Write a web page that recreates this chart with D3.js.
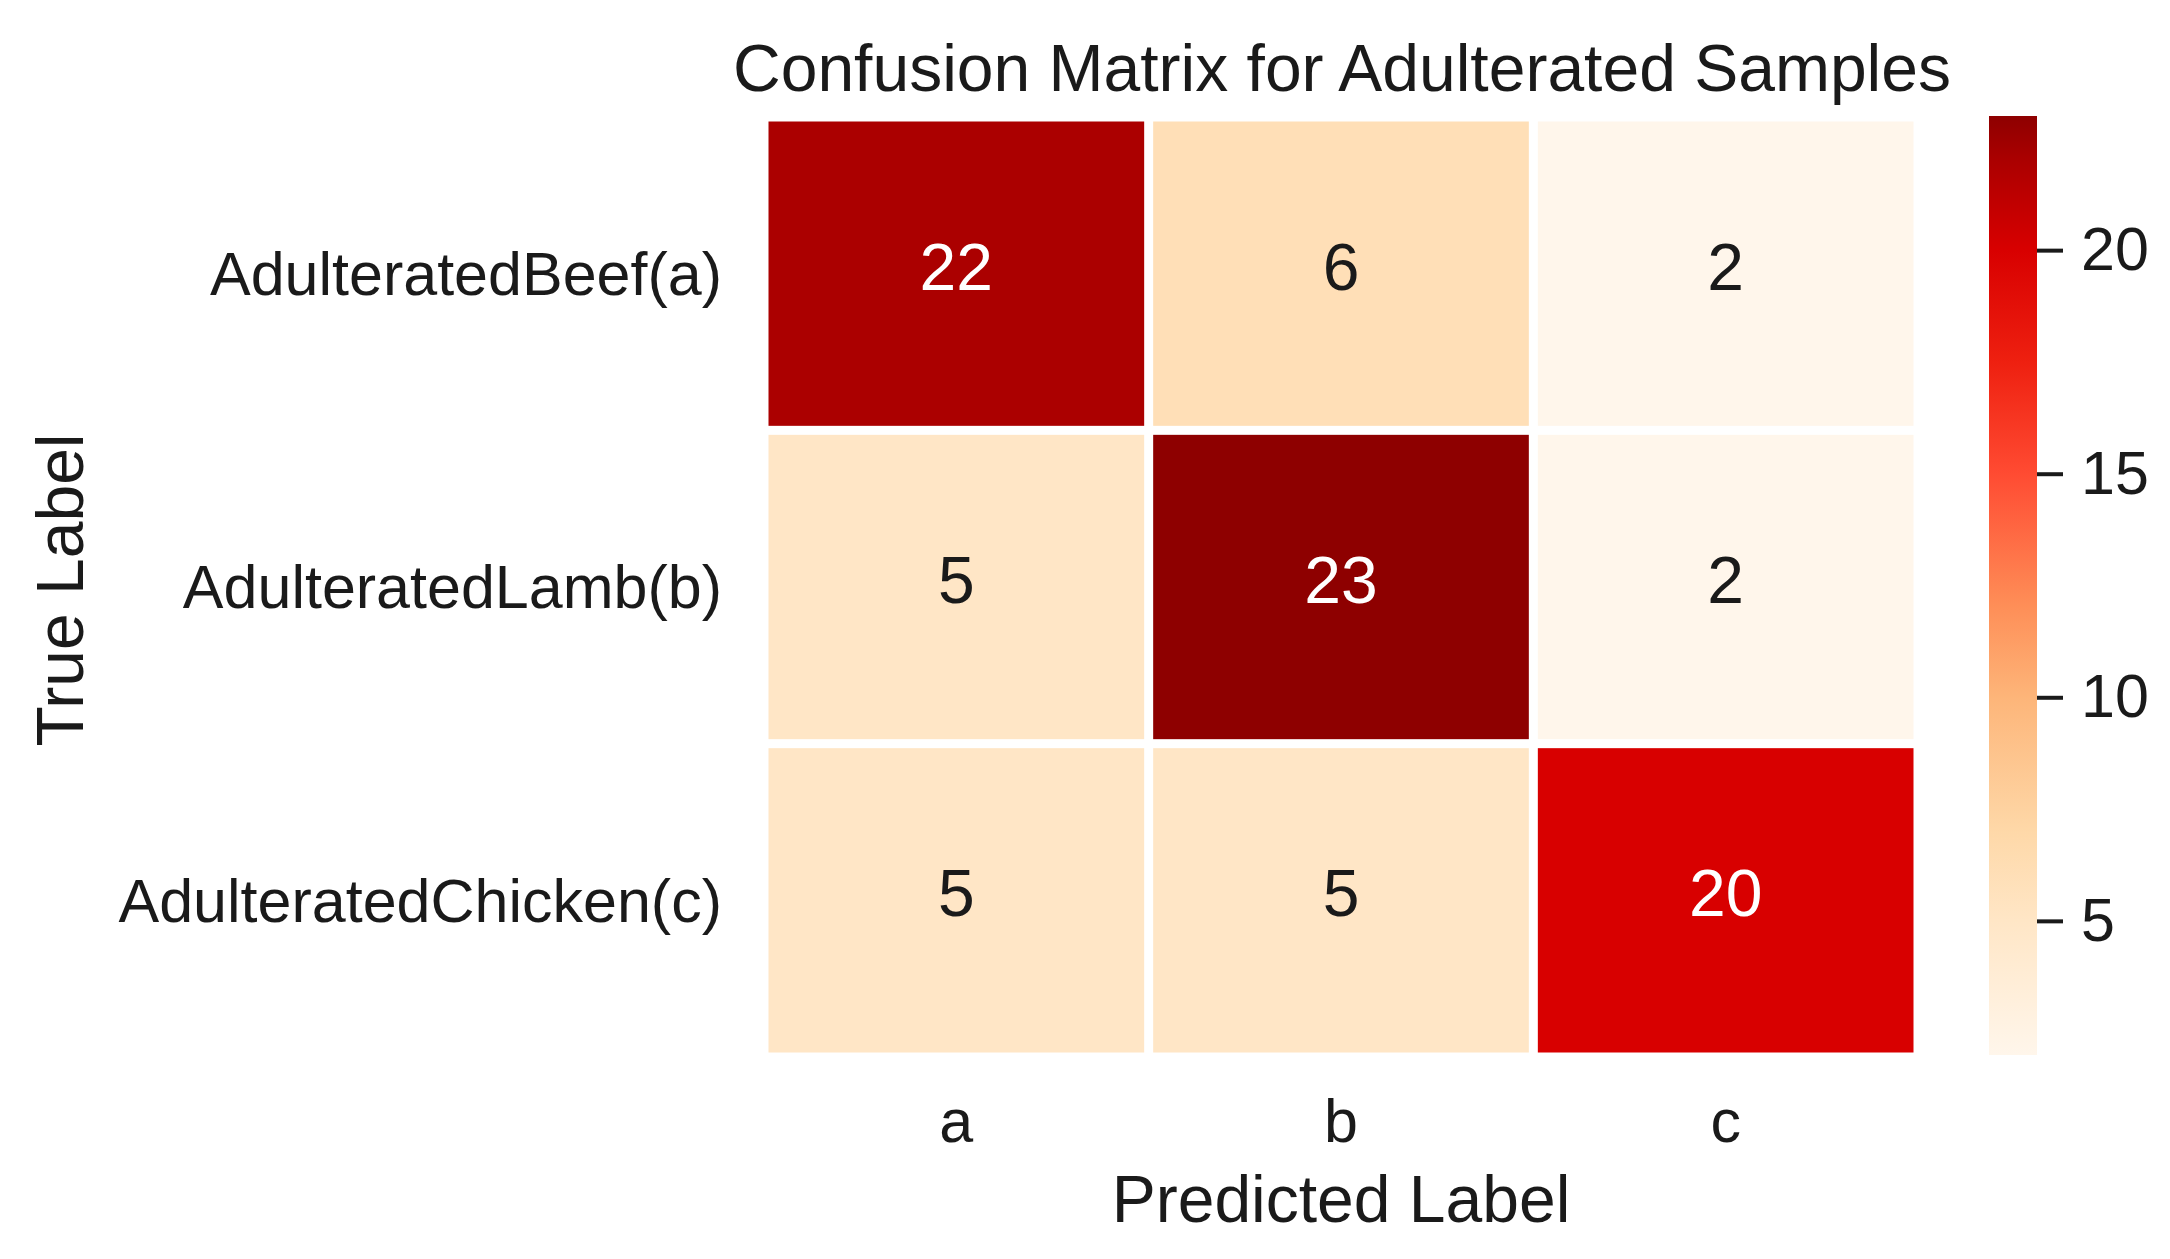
<!DOCTYPE html>
<html>
<head>
<meta charset="utf-8">
<script src="https://cdn.jsdelivr.net/npm/d3@7"></script>
<style>
  html, body { margin: 0; padding: 0; background: #ffffff; }
  svg { display: block; font-family: "Liberation Sans", Arial, sans-serif; }
</style>
</head>
<body>
<script>
// ---- data ----
const trueLabels = ["AdulteratedBeef(a)", "AdulteratedLamb(b)", "AdulteratedChicken(c)"];
const predLabels = ["a", "b", "c"];
const matrix = [
  [22, 6, 2],
  [5, 23, 2],
  [5, 5, 20]
];
const colorbarTicks = [5, 10, 15, 20];
const colorDomain = [2, 23];
const titleText = "Confusion Matrix for Adulterated Samples";
const xLabelText = "Predicted Label";
const yLabelText = "True Label";

// ---- colour ramp ----
const rampStops = [2, 5, 7, 10, 12, 15, 17.5, 20, 22, 23];
const rampColors = ["#fff6eb", "#ffe6c6", "#fed8a8", "#fdb579", "#fe8f58", "#ff4b32", "#ee2010", "#d80000", "#ab0000", "#8e0000"];

const W = 2170, H = 1259;
const svg = d3.select("body").append("svg").attr("width", W).attr("height", H);

const x = d3.scaleBand().domain(predLabels).range([764, 1918]);
const y = d3.scaleBand().domain(trueLabels).range([117, 1057]);
const color = d3.scaleLinear().domain(rampStops).range(rampColors).interpolate(d3.interpolateRgb).clamp(true);
const gap = 9;

const cells = [];
matrix.forEach((row, i) => row.forEach((v, j) => cells.push({ r: trueLabels[i], c: predLabels[j], v })));

const g = svg.append("g");
g.selectAll("rect.cell").data(cells).enter().append("rect")
  .attr("class", "cell")
  .attr("x", d => x(d.c) + gap / 2)
  .attr("y", d => y(d.r) + gap / 2)
  .attr("width", x.bandwidth() - gap)
  .attr("height", y.bandwidth() - gap)
  .attr("fill", d => color(d.v));

g.selectAll("text.annot").data(cells).enter().append("text")
  .attr("class", "annot")
  .attr("x", d => x(d.c) + x.bandwidth() / 2)
  .attr("y", d => y(d.r) + y.bandwidth() / 2)
  .attr("dy", "0.24em")
  .attr("text-anchor", "middle")
  .attr("font-size", 66)
  .attr("fill", d => d.v > 14 ? "#ffffff" : "#1a1a1a")
  .text(d => d.v);

// axes (no tick lines)
const xAxis = svg.append("g").attr("transform", "translate(0,1057)")
  .call(d3.axisBottom(x).tickSize(0).tickPadding(0));
xAxis.select(".domain").remove();
xAxis.selectAll("text").attr("font-size", 61).attr("fill", "#1a1a1a").attr("dy", null).attr("y", 85);

const yAxis = svg.append("g").attr("transform", "translate(764,0)")
  .call(d3.axisLeft(y).tickSize(0).tickPadding(0));
yAxis.select(".domain").remove();
yAxis.selectAll("text").attr("font-size", 61).attr("fill", "#1a1a1a").attr("x", -42).attr("dy", "0.35em");

// titles
svg.append("text").attr("x", 1342).attr("y", 91).attr("text-anchor", "middle")
  .attr("font-size", 66).attr("fill", "#1a1a1a").text(titleText);
svg.append("text").attr("x", 1341).attr("y", 1222).attr("text-anchor", "middle")
  .attr("font-size", 66).attr("fill", "#1a1a1a").text(xLabelText);
svg.append("text").attr("transform", "translate(83,590) rotate(-90)").attr("text-anchor", "middle")
  .attr("font-size", 66).attr("fill", "#1a1a1a").text(yLabelText);

// colorbar
const cbX = 1989, cbW = 48, cbTop = 116, cbBottom = 1055;
const cbScale = d3.scaleLinear().domain(colorDomain).range([cbBottom, cbTop]);
const defs = svg.append("defs");
const grad = defs.append("linearGradient").attr("id", "cbgrad")
  .attr("x1", 0).attr("y1", 1).attr("x2", 0).attr("y2", 0);
rampStops.forEach((s, i) => {
  grad.append("stop")
    .attr("offset", (s - colorDomain[0]) / (colorDomain[1] - colorDomain[0]))
    .attr("stop-color", rampColors[i]);
});
svg.append("rect").attr("x", cbX).attr("y", cbTop).attr("width", cbW).attr("height", cbBottom - cbTop)
  .attr("fill", "url(#cbgrad)");

const cbAxis = svg.append("g").attr("transform", `translate(${cbX + cbW},0)`)
  .call(d3.axisRight(cbScale).tickValues(colorbarTicks).tickSize(26).tickPadding(18));
cbAxis.select(".domain").remove();
cbAxis.selectAll("line").attr("stroke", "#1a1a1a").attr("stroke-width", 4);
cbAxis.selectAll("text").attr("font-size", 61).attr("fill", "#1a1a1a");
</script>
</body>
</html>
